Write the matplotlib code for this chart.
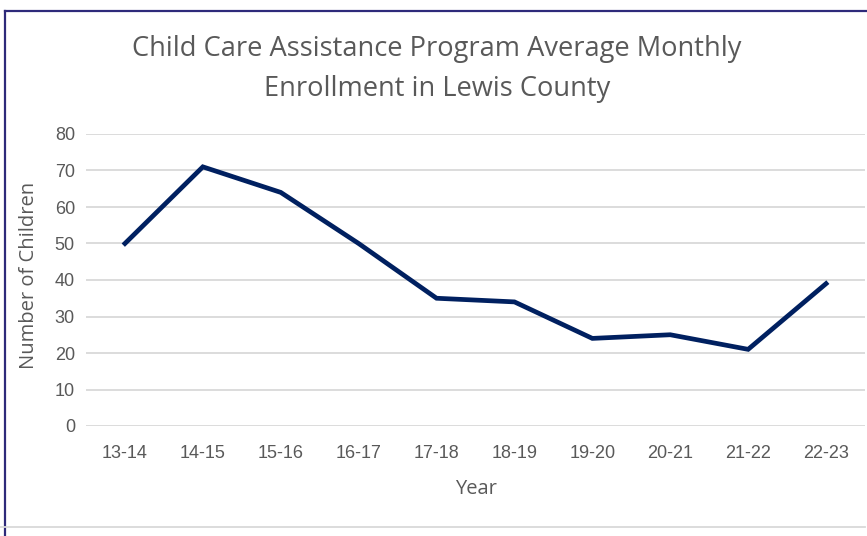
import matplotlib.pyplot as plt
from matplotlib.lines import Line2D

years = ["13-14", "14-15", "15-16", "16-17", "17-18", "18-19", "19-20", "20-21", "21-22", "22-23"]
children = [50, 71, 64, 50, 35, 34, 24, 25, 21, 39]
yticks = [0, 10, 20, 30, 40, 50, 60, 70, 80]

W, H = 867, 536
fig = plt.figure(figsize=(W/100, H/100), dpi=100)
ax = fig.add_axes([86/W, 1-426/H, (865-86)/W, (426-134)/H])

x = list(range(len(years)))
ax.plot(x, children, color="#002060", lw=3.4, solid_joinstyle="miter")
ax.set_xlim(-0.5, len(years)-0.5)
ax.set_ylim(0, 80)
ax.set_yticks(yticks)
ax.set_xticks(x)
ax.set_xticklabels(years)
ax.grid(axis="y", color="#d9d9d9", lw=1.3)
ax.set_axisbelow(True)
for s in ax.spines.values():
	s.set_visible(False)
ax.tick_params(length=0, labelsize=13, labelcolor="#595959")
ax.tick_params(axis="x", pad=13.5)
ax.tick_params(axis="y", pad=8)
for lab in ax.get_xticklabels() + ax.get_yticklabels():
	lab.set_family("Liberation Sans")

ax.set_xlabel("Year", fontsize=14.5, color="#595959", family="Open Sans", labelpad=12.5)
ax.set_ylabel("Number of Children", fontsize=14.5, color="#595959", family="Open Sans", labelpad=11)
ax.yaxis.label.set_y((426-275)/292)

fig.text(437/W, 1-69/H, "Child Care Assistance Program Average Monthly\nEnrollment in Lewis County",
	ha="center", va="center", fontsize=19.6, color="#595959", family="Open Sans", linespacing=1.55)

# frame lines around the chart
fig.add_artist(Line2D([5/W, 5/W], [0, 1-11/H], color="#2e2a7a", lw=1.6))
fig.add_artist(Line2D([5/W, 1], [1-11/H, 1-11/H], color="#2e2a7a", lw=1.6))
fig.add_artist(Line2D([0, 865/W], [1-527/H, 1-527/H], color="#d9d9d9", lw=1.3))

fig.savefig("out.png", dpi=100)
